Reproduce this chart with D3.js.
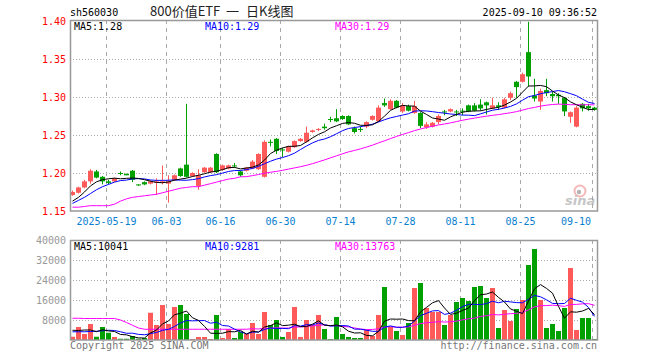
<!DOCTYPE html>
<html>
<head>
<meta charset="utf-8">
<script src="https://cdn.jsdelivr.net/npm/d3@7"></script>
<style>
body{margin:0;background:#fff;}
svg{display:block;font-family:"DejaVu Sans Mono",monospace;}
</style>
</head>
<body>
<svg width="660" height="360"></svg>
<script>
// daily bars of sh560030
var dates = ["2025-05-09","2025-05-12","2025-05-13","2025-05-14","2025-05-15","2025-05-16","2025-05-19","2025-05-20","2025-05-21","2025-05-22","2025-05-23","2025-05-26","2025-05-27","2025-05-28","2025-05-29","2025-05-30",
"2025-06-03","2025-06-04","2025-06-05","2025-06-06","2025-06-09","2025-06-10","2025-06-11","2025-06-12","2025-06-13","2025-06-16","2025-06-17","2025-06-18","2025-06-19","2025-06-20","2025-06-23","2025-06-24","2025-06-25","2025-06-26","2025-06-27","2025-06-30",
"2025-07-01","2025-07-02","2025-07-03","2025-07-04","2025-07-07","2025-07-08","2025-07-09","2025-07-10","2025-07-11","2025-07-14","2025-07-15","2025-07-16","2025-07-17","2025-07-18","2025-07-21","2025-07-22","2025-07-23","2025-07-24","2025-07-25","2025-07-28","2025-07-29","2025-07-30","2025-07-31",
"2025-08-01","2025-08-04","2025-08-05","2025-08-06","2025-08-07","2025-08-08","2025-08-11","2025-08-12","2025-08-13","2025-08-14","2025-08-15","2025-08-18","2025-08-19","2025-08-20","2025-08-21","2025-08-22","2025-08-25","2025-08-26","2025-08-27","2025-08-28","2025-08-29",
"2025-09-01","2025-09-02","2025-09-03","2025-09-04","2025-09-05","2025-09-08","2025-09-09","2025-09-10"];

var opens = [1.171,1.174,1.181,1.189,1.202,1.195,1.189,1.189,1.200,1.199,
 1.203,1.185,1.188,1.186,1.187,1.187,1.186,1.191,1.206,1.211,
 1.196,1.183,1.201,1.201,1.225,1.204,1.206,1.210,1.202,1.203,
 1.206,1.205,1.195,1.241,1.245,1.231,1.228,1.234,1.242,1.241,
 1.254,1.257,1.261,1.271,1.272,1.275,1.275,1.259,1.258,1.261,
 1.270,1.268,1.292,1.284,1.295,1.281,1.288,1.279,1.279,1.260,
 1.261,1.267,1.281,1.281,1.281,1.282,1.289,1.289,1.290,1.293,
 1.285,1.289,1.286,1.299,1.320,1.320,1.359,1.302,1.294,1.309,
 1.304,1.303,1.299,1.274,1.261,1.291,1.288,1.286];

var highs = [1.177,1.182,1.191,1.205,1.204,1.196,1.191,1.194,1.202,1.199,
 1.204,1.185,1.189,1.190,1.193,1.210,1.197,1.198,1.207,1.291,
 1.201,1.205,1.208,1.208,1.226,1.211,1.211,1.213,1.203,1.208,
 1.217,1.226,1.243,1.244,1.246,1.233,1.236,1.243,1.246,1.261,
 1.257,1.259,1.265,1.274,1.284,1.276,1.276,1.261,1.261,1.268,
 1.276,1.289,1.298,1.297,1.296,1.292,1.290,1.295,1.280,1.267,
 1.267,1.277,1.283,1.285,1.283,1.285,1.290,1.292,1.297,1.294,
 1.299,1.293,1.299,1.307,1.321,1.332,1.399,1.324,1.311,1.324,
 1.307,1.305,1.300,1.281,1.288,1.292,1.291,1.287];

var lows = [1.170,1.173,1.180,1.186,1.193,1.185,1.185,1.188,1.197,1.197,
 1.188,1.183,1.184,1.185,1.171,1.185,1.161,1.190,1.195,1.194,
 1.195,1.178,1.200,1.200,1.200,1.203,1.205,1.207,1.195,1.202,
 1.205,1.204,1.194,1.235,1.225,1.221,1.227,1.233,1.241,1.240,
 1.253,1.255,1.257,1.267,1.267,1.270,1.263,1.252,1.254,1.259,
 1.269,1.267,1.287,1.283,1.285,1.279,1.281,1.278,1.259,1.258,
 1.260,1.264,1.276,1.280,1.275,1.276,1.280,1.281,1.282,1.277,
 1.284,1.283,1.285,1.296,1.299,1.319,1.314,1.294,1.283,1.301,
 1.294,1.291,1.275,1.266,1.260,1.281,1.282,1.282];

var closes = [1.175,1.181,1.189,1.203,1.194,1.189,1.187,1.193,1.199,1.197,
 1.191,1.184,1.185,1.189,1.189,1.189,1.189,1.197,1.196,1.195,
 1.200,1.197,1.207,1.207,1.201,1.210,1.210,1.209,1.197,1.207,
 1.215,1.225,1.241,1.240,1.229,1.230,1.235,1.242,1.245,1.253,
 1.256,1.258,1.259,1.270,1.268,1.271,1.264,1.254,1.257,1.267,
 1.275,1.286,1.289,1.295,1.286,1.289,1.282,1.288,1.262,1.264,
 1.266,1.275,1.280,1.284,1.280,1.281,1.281,1.282,1.285,1.289,
 1.289,1.287,1.297,1.305,1.313,1.330,1.327,1.298,1.308,1.305,
 1.301,1.301,1.281,1.280,1.286,1.285,1.285,1.283];

var volumes = [1300,5200,2400,6400,1300,5200,2900,1200,500,500,
 1600,500,800,10900,6000,14000,6400,13200,14000,10400,
 400,1200,1200,400,10000,800,4400,800,3200,2400,
 6800,2400,11200,6000,8000,1200,3200,13200,1200,8000,
 6000,10000,4400,400,9200,2400,1200,800,800,4000,
 1600,10000,21200,5200,3600,2000,6800,20800,22800,12800,
 11200,11200,6000,10000,15200,16800,15600,21200,21600,16800,
 20800,4800,12000,7600,12400,16000,30000,36400,16000,4800,
 6400,3600,12800,28800,4000,8800,8800,400];

// moving average values before a full window exists
var ma5Head = [1.163,1.168,1.175,1.183];
var ma10Head = [1.160,1.164,1.168,1.173,1.178,1.182,1.185,1.188,1.190];
var ma30Head = [1.155,1.155,1.156,1.157,1.157,1.157,1.157,1.159,1.163,1.166,
 1.168,1.169,1.170,1.171,1.172,1.174,1.176,1.178,1.180,1.181,
 1.182,1.182,1.184,1.186,1.188,1.190,1.192,1.193,1.195];
var vma5Head = [3900,3800,4000,4000];
var vma10Head = [3300,3300,3300,3400,3500,3700,3900,3800,3300];
var vma30Head = [8700,8700,8600,8600,8600,8600,8600,8600,8000,7000,
 5900,4800,4300,4300,4300,4300,4300,4300,4300,4300,
 4300,4300,4300,4300,4300,4300,4300,4300,4300];

var tickDates = ["2025-05-19","2025-06-03","2025-06-16","2025-06-30","2025-07-14","2025-07-28","2025-08-11","2025-08-25","2025-09-10"];
var tickLabels = ["2025-05-19","06-03","06-16","06-30","07-14","07-28","08-11","08-25","09-10"];
var priceTicks = [1.40,1.35,1.30,1.25,1.20,1.15];
var volTicks = [40000,32000,24000,16000,8000];
var maNames = ["MA5","MA10","MA30"];
var priceMaLabels = ["1.28","1.29","1.29"];
var volMaLabels = ["10041","9281","13763"];
var maColors = ["#000000","#0000ff","#ff00ff"];

var upColor = "#ff5a5a";
var downColor = "#00a000";
var gridColor = "#aaaaaa";

var svg = d3.select("svg");

var x = d3.scaleBand().domain(dates).range([70, 598]);
var y = d3.scaleLinear().domain([1.15, 1.40]).range([211, 21]);
var yv = d3.scaleLinear().domain([0, 40000]).range([340, 240]);

var movingAverage = function(values, n, head){
    return values.map(function(v, i){
        if (i < n - 1) return head[i];
        return d3.mean(values.slice(i - n + 1, i + 1));
    });
};

var isUp = function(i){ return closes[i] >= opens[i]; };

// header texts
svg.append("text").attr("x", 70).attr("y", 16).attr("font-size", 10).attr("fill", "#000").text("sh560030");
var title = svg.append("text").attr("y", 16).attr("font-size", 13)
    .attr("font-family", "'Noto Sans CJK SC', sans-serif").attr("fill", "#222");
title.append("tspan").attr("x", 150).text("800价值ETF");
title.append("tspan").attr("x", 226).text("一");
title.append("tspan").attr("x", 246).text("日K线图");
svg.append("text").attr("x", 597).attr("y", 16).attr("font-size", 10).attr("text-anchor", "end").attr("fill", "#000")
    .text("2025-09-10 09:36:52");

// horizontal grids
svg.selectAll(".pgrid").data(priceTicks.slice(1, 5)).enter().append("line")
    .attr("x1", 70).attr("x2", 598)
    .attr("y1", function(d){ return Math.round(y(d)) + 0.5; })
    .attr("y2", function(d){ return Math.round(y(d)) + 0.5; })
    .attr("stroke", gridColor).attr("stroke-dasharray", "1,2");
svg.selectAll(".vgrid").data(volTicks.slice(1)).enter().append("line")
    .attr("x1", 70).attr("x2", 598)
    .attr("y1", function(d){ return Math.round(yv(d)) + 0.5; })
    .attr("y2", function(d){ return Math.round(yv(d)) + 0.5; })
    .attr("stroke", gridColor).attr("stroke-dasharray", "1,2");

// vertical date grids in both panes
[[20, 211], [240, 340]].forEach(function(p){
    svg.selectAll(null).data(tickDates).enter().append("line")
        .attr("x1", function(d){ return x(d) + 0.5; })
        .attr("x2", function(d){ return x(d) + 0.5; })
        .attr("y1", p[0]).attr("y2", p[1])
        .attr("stroke", gridColor).attr("stroke-dasharray", "4,4");
});

// sina watermark
var logo = svg.append("g").attr("opacity", 0.55);
logo.append("circle").attr("cx", 580).attr("cy", 191).attr("r", 5.5).attr("fill", "none").attr("stroke", "#f08080").attr("stroke-width", 2);
logo.append("circle").attr("cx", 579).attr("cy", 192).attr("r", 2.2).attr("fill", "#777");
logo.append("text").attr("x", 565).attr("y", 205).attr("font-size", 13).attr("font-style", "italic")
    .attr("font-weight", "bold").attr("font-family", "'DejaVu Sans', sans-serif").attr("fill", "#999").text("sina");

// candles
var idx = d3.range(dates.length);
svg.selectAll(".wick").data(idx).enter().append("line")
    .attr("x1", function(i){ return x(dates[i]) + 2.5; })
    .attr("x2", function(i){ return x(dates[i]) + 2.5; })
    .attr("y1", function(i){ return y(highs[i]); })
    .attr("y2", function(i){ return y(lows[i]); })
    .attr("stroke", function(i){ return isUp(i) ? upColor : downColor; });
svg.selectAll(".body").data(idx).enter().append("rect")
    .attr("x", function(i){ return x(dates[i]); })
    .attr("width", 5)
    .attr("y", function(i){ return y(Math.max(opens[i], closes[i])); })
    .attr("height", function(i){ return Math.max(1, Math.abs(y(opens[i]) - y(closes[i]))); })
    .attr("fill", function(i){ return isUp(i) ? upColor : downColor; });

// volume bars
svg.selectAll(".vol").data(idx).enter().append("rect")
    .attr("x", function(i){ return x(dates[i]); })
    .attr("width", 5)
    .attr("y", function(i){ return yv(volumes[i]); })
    .attr("height", function(i){ return yv(0) - yv(volumes[i]); })
    .attr("fill", function(i){ return isUp(i) ? upColor : downColor; });

// moving averages
var drawMa = function(values, scale, color){
    var line = d3.line()
        .x(function(d, i){ return x(dates[i]) + 2.5; })
        .y(function(d){ return scale(d); });
    svg.append("path").datum(values).attr("d", line)
        .attr("fill", "none").attr("stroke", color).attr("stroke-width", 1);
};
drawMa(movingAverage(closes, 30, ma30Head), y, maColors[2]);
drawMa(movingAverage(closes, 10, ma10Head), y, maColors[1]);
drawMa(movingAverage(closes, 5, ma5Head), y, maColors[0]);
drawMa(movingAverage(volumes, 30, vma30Head), yv, maColors[2]);
drawMa(movingAverage(volumes, 10, vma10Head), yv, maColors[1]);
drawMa(movingAverage(volumes, 5, vma5Head), yv, maColors[0]);

// frames
svg.append("rect").attr("x", 70.5).attr("y", 20.5).attr("width", 527).attr("height", 190.5)
    .attr("fill", "none").attr("stroke", "#999").attr("stroke-width", 1.5);
svg.append("rect").attr("x", 70.5).attr("y", 240.5).attr("width", 527).attr("height", 99.5)
    .attr("fill", "none").attr("stroke", "#999").attr("stroke-width", 1.5);

// axes labels
var yAxis = svg.append("g").attr("transform", "translate(66,0)")
    .call(d3.axisLeft(y).tickValues(priceTicks).tickSize(0).tickPadding(0).tickFormat(d3.format(".2f")));
yAxis.select(".domain").remove();
yAxis.selectAll("text").attr("fill", "#ff0000").attr("font-size", 10).attr("font-family", "'DejaVu Sans Mono', monospace");

var vAxis = svg.append("g").attr("transform", "translate(66,0)")
    .call(d3.axisLeft(yv).tickValues(volTicks).tickSize(0).tickPadding(0).tickFormat(d3.format("d")));
vAxis.select(".domain").remove();
vAxis.selectAll("text").attr("fill", "#999").attr("font-size", 10).attr("font-family", "'DejaVu Sans Mono', monospace");

svg.selectAll(".dlab").data(tickDates).enter().append("text")
    .attr("x", function(d, i){ return i == tickDates.length - 1 ? x(d) - 1 : x(d) + 0.5; })
    .attr("y", 225)
    .attr("text-anchor", function(d, i){ return i == tickDates.length - 1 ? "end" : "middle"; })
    .attr("font-size", 10).attr("fill", "#0a7fd0")
    .text(function(d, i){ return tickLabels[i]; });

// legends
var legendX = [74, 205, 335];
maNames.forEach(function(n, i){
    svg.append("text").attr("x", legendX[i]).attr("y", 30).attr("font-size", 10)
        .attr("fill", maColors[i]).text(n + ":" + priceMaLabels[i]);
    svg.append("text").attr("x", legendX[i]).attr("y", 250).attr("font-size", 10)
        .attr("fill", maColors[i]).text(n + ":" + volMaLabels[i]);
});

// footer
svg.append("text").attr("x", 70).attr("y", 349).attr("font-size", 10).attr("fill", "#777").text("Copyright 2025 SINA.COM");
svg.append("text").attr("x", 597).attr("y", 349).attr("font-size", 10).attr("text-anchor", "end").attr("fill", "#777").text("http://finance.sina.com.cn");
</script>
</body>
</html>
